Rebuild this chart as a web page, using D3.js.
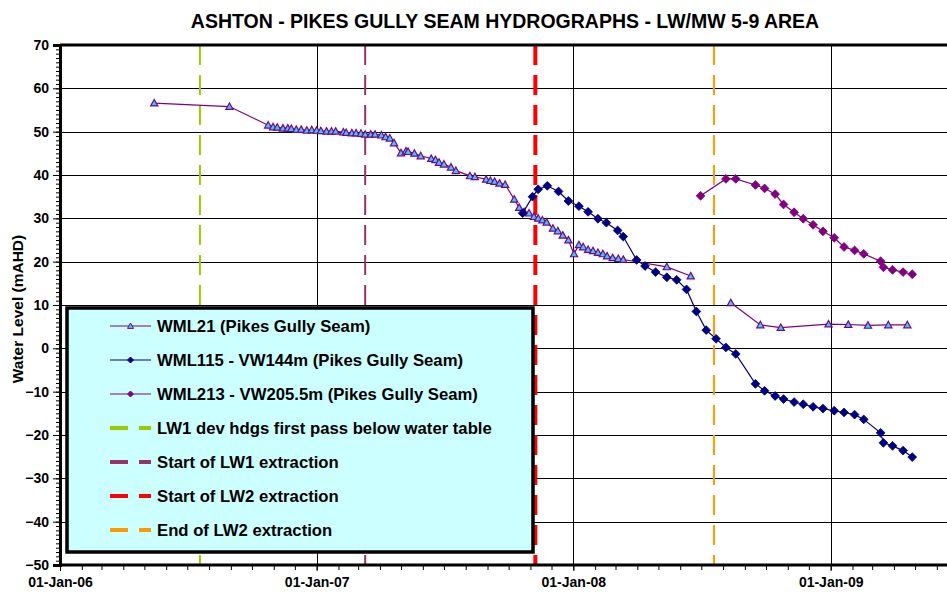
<!DOCTYPE html>
<html>
<head>
<meta charset="UTF-8" />
<title>Ashton - Pikes Gully Seam Hydrographs</title>
<script src="https://cdnjs.cloudflare.com/ajax/libs/d3/7.8.5/d3.min.js"></script>
<style>
body {
	margin: 0;
	background: #fff;
}

text {
	font-family: Arial, "Liberation Sans", sans-serif;
	font-weight: bold;
	fill: #000;
}
</style>
</head>
<body>
<div id="chart"></div>
<script>
// WML21 (triangles) - null = gap in the record
var wml21Dates = ["2006-05-15", "2006-08-30", "2006-10-24", "2006-10-31", "2006-11-06", "2006-11-14",
    "2006-11-21", "2006-11-26", "2006-12-03", "2006-12-10", "2006-12-18", "2006-12-25", "2007-01-01",
    "2007-01-07", "2007-01-15", "2007-01-22", "2007-01-28", "2007-02-08", "2007-02-12", "2007-02-20",
    "2007-02-26", "2007-03-05", "2007-03-11", "2007-03-19", "2007-03-25", "2007-04-03", "2007-04-09",
    "2007-04-15", "2007-04-21", "2007-05-01", "2007-05-08", "2007-05-11", "2007-05-20", "2007-05-29",
    "2007-06-13", "2007-06-19", "2007-06-24", "2007-07-01", "2007-07-11", "2007-07-18", "2007-08-07",
    "2007-08-14", "2007-08-30", "2007-09-05", "2007-09-11", "2007-09-18", "2007-09-26", "2007-10-09",
    "2007-10-16", "2007-10-23", "2007-10-30", "2007-11-06", "2007-11-12", "2007-11-18", "2007-11-24",
    "2007-12-03", "2007-12-10", "2007-12-17", "2007-12-25", "2008-01-02", "2008-01-09", "2008-01-15",
    "2008-01-22", "2008-01-29", "2008-02-05", "2008-02-12", "2008-02-18", "2008-02-26", "2008-03-05",
    "2008-03-12", "2008-05-13", "2008-06-16", "2008-07-15", "2008-08-12", "2008-09-23", "2008-10-22",
    "2008-12-29", "2009-01-26", "2009-02-23", "2009-03-24", "2009-04-20"];
var wml21Levels = [56.6, 55.8, 51.5, 51.1, 51.0, 50.8,
    50.8, 50.7, 50.5, 50.5, 50.3, 50.4, 50.3,
    50.2, 50.1, 50.1, 50.1, 49.9, 49.8, 49.7,
    49.7, 49.6, 49.4, 49.4, 49.4, 49.2, 48.8,
    48.5, 47.4, 45.1, 45.5, 45.4, 45.0, 44.4,
    43.8, 43.5, 42.9, 42.5, 41.8, 41.0, 39.8,
    39.6, 39.0, 38.7, 38.5, 38.1, 37.8, 34.4,
    32.5, 31.5, 31.2, 30.4, 30.0, 29.6, 29.1,
    27.7, 27.1, 26.1, 25.0, 21.8, 23.9, 23.4,
    22.8, 22.5, 22.1, 21.8, 21.3, 20.9, 20.7,
    20.5, 18.8, 16.7, null, 10.5, 5.4, 4.8,
    5.6, 5.5, 5.3, 5.4, 5.4];

// WML115 - VW144m (navy diamonds)
var wml115Dates = ["2007-10-21", "2007-11-04", "2007-11-12", "2007-11-25", "2007-12-11", "2007-12-25",
    "2008-01-09", "2008-01-22", "2008-02-05", "2008-02-17", "2008-03-04", "2008-03-12", "2008-03-31",
    "2008-04-12", "2008-04-27", "2008-05-13", "2008-05-27", "2008-06-10", "2008-06-24", "2008-07-08",
    "2008-07-22", "2008-08-05", "2008-08-19", "2008-09-16", "2008-09-29", "2008-10-14", "2008-10-26",
    "2008-11-10", "2008-11-23", "2008-12-07", "2008-12-21", "2009-01-06", "2009-01-20", "2009-02-04",
    "2009-02-17", "2009-03-13", "2009-03-17", "2009-03-30", "2009-04-14", "2009-04-27"];
var wml115Levels = [31.2, 35.0, 36.7, 37.5, 36.2, 34.0,
    32.8, 31.5, 29.9, 29.0, 27.2, 25.8, 20.4,
    19.0, 17.6, 16.4, 15.8, 13.6, 8.5, 4.2,
    2.2, 0.2, -1.3, -8.2, -9.8, -11.0, -11.7,
    -12.4, -12.9, -13.5, -13.9, -14.4, -14.8, -15.3,
    -16.4, -19.5, -21.8, -22.5, -23.6, -25.1];

// WML213 - VW205.5m (purple diamonds)
var wml213Dates = ["2008-06-30", "2008-08-05", "2008-08-19", "2008-09-16", "2008-09-29", "2008-10-14",
    "2008-10-26", "2008-11-10", "2008-11-23", "2008-12-07", "2008-12-21", "2009-01-06", "2009-01-20",
    "2009-02-04", "2009-02-17", "2009-03-13", "2009-03-17", "2009-03-30", "2009-04-14", "2009-04-27"];
var wml213Levels = [35.2, 39.1, 39.1, 37.7, 36.9, 35.6,
    33.2, 31.4, 29.9, 28.5, 27.0, 25.5, 23.4,
    22.6, 21.8, 20.1, 18.7, 18.1, 17.6, 17.1];

// mining events (vertical dashed lines)
var eventNames = ["LW1 dev hdgs first pass below water table", "Start of LW1 extraction",
    "Start of LW2 extraction", "End of LW2 extraction"];
var eventDates = ["2006-07-19", "2007-03-11", "2007-11-08", "2008-07-19"];

var seriesNames = ["WML21 (Pikes Gully Seam)", "WML115 - VW144m (Pikes Gully Seam)",
    "WML213 - VW205.5m (Pikes Gully Seam)"];

var yTickValues = [-50, -40, -30, -20, -10, 0, 10, 20, 30, 40, 50, 60, 70];
var xTickDates = ["2006-01-01", "2007-01-01", "2008-01-01", "2009-01-01"];
var xDomain = ["2006-01-01", "2009-06-14"];
var yDomain = [-50, 70];

// styles
var seriesStyle = [
    {line: '#800080', fill: '#33CCFF', stroke: '#800080', shape: 'tri'},
    {line: '#000080', fill: '#000080', stroke: '#000080', shape: 'dia'},
    {line: '#800080', fill: '#800080', stroke: '#800080', shape: 'dia'}
];
var eventStyle = [
    {color: '#99CC00', width: 2},
    {color: '#993366', width: 2},
    {color: '#FF0000', width: 4},
    {color: '#FF9900', width: 2}
];

var parse = d3.timeParse('%Y-%m-%d');

var width = 947, height = 594;
var plot = {left: 60, top: 45, right: 946, bottom: 565};

var svg = d3.select('#chart')
    .append('svg')
    .attr('width', width)
    .attr('height', height);

var x = d3.scaleTime()
    .domain(xDomain.map(parse))
    .range([plot.left, plot.right]);

var y = d3.scaleLinear()
    .domain(yDomain)
    .range([plot.bottom, plot.top]);

// title
svg.append('text')
    .attr('x', 505)
    .attr('y', 28)
    .attr('text-anchor', 'middle')
    .style('font-size', '19.5px')
    .text('ASHTON - PIKES GULLY SEAM HYDROGRAPHS - LW/MW 5-9 AREA');

// y label
svg.append('text')
    .attr('transform', 'translate(23,' + 309 + ') rotate(-90)')
    .attr('text-anchor', 'middle')
    .style('font-size', '15.5px')
    .text('Water Level (mAHD)');

// gridlines
svg.append('g')
    .selectAll('line')
    .data(yTickValues.filter(function(v) { return v > yDomain[0] && v < yDomain[1]; }))
    .enter()
    .append('line')
    .attr('x1', plot.left)
    .attr('x2', width)
    .attr('y1', function(d) { return Math.round(y(d)) + 0.5; })
    .attr('y2', function(d) { return Math.round(y(d)) + 0.5; })
    .attr('stroke', '#000')
    .attr('stroke-width', 1);

svg.append('g')
    .selectAll('line')
    .data(xTickDates.slice(1).map(parse))
    .enter()
    .append('line')
    .attr('x1', function(d) { return Math.round(x(d)) + 0.5; })
    .attr('x2', function(d) { return Math.round(x(d)) + 0.5; })
    .attr('y1', plot.top)
    .attr('y2', plot.bottom)
    .attr('stroke', '#000')
    .attr('stroke-width', 1);

// event lines
svg.append('g')
    .selectAll('line')
    .data(eventDates.map(parse))
    .enter()
    .append('line')
    .attr('x1', function(d) { return x(d); })
    .attr('x2', function(d) { return x(d); })
    .attr('y1', plot.top)
    .attr('y2', plot.bottom)
    .attr('stroke', function(d, i) { return eventStyle[i].color; })
    .attr('stroke-width', function(d, i) { return eventStyle[i].width; })
    .attr('stroke-dasharray', '20,10');

// series
function markerPath(shape, r) {
    if (shape === 'tri') {
        return 'M0,' + (-r) + 'L' + r + ',' + (r * 0.8) + 'L' + (-r) + ',' + (r * 0.8) + 'Z';
    }
    return 'M0,' + (-r) + 'L' + r + ',0L0,' + r + 'L' + (-r) + ',0Z';
}

var allSeries = [
    {dates: wml21Dates, levels: wml21Levels},
    {dates: wml115Dates, levels: wml115Levels},
    {dates: wml213Dates, levels: wml213Levels}
];

var line = d3.line()
    .defined(function(d) { return d.v !== null; })
    .x(function(d) { return x(d.t); })
    .y(function(d) { return y(d.v); });

allSeries.forEach(function(s, i) {
    var pts = s.dates.map(function(dt, j) {
        return {t: parse(dt), v: s.levels[j]};
    });
    var st = seriesStyle[i];
    var g = svg.append('g');
    g.append('path')
        .datum(pts)
        .attr('d', line)
        .attr('fill', 'none')
        .attr('stroke', st.line)
        .attr('stroke-width', 1.2);
    g.selectAll('path.mk')
        .data(pts.filter(function(d) { return d.v !== null; }))
        .enter()
        .append('path')
        .attr('class', 'mk')
        .attr('transform', function(d) { return 'translate(' + x(d.t) + ',' + y(d.v) + ')'; })
        .attr('d', markerPath(st.shape, st.shape === 'tri' ? 3.6 : 4.4))
        .attr('fill', st.fill)
        .attr('stroke', st.stroke)
        .attr('stroke-width', st.shape === 'tri' ? 1.2 : 0.8);
});

// axes
var yAxisMinor = d3.axisLeft(y)
    .tickValues(d3.range(yDomain[0], yDomain[1] + 1, 1))
    .tickSize(4)
    .tickFormat('');
svg.append('g')
    .attr('transform', 'translate(' + plot.left + ',0)')
    .call(yAxisMinor)
    .call(function(g) { g.select('.domain').remove(); });

var yAxis = d3.axisLeft(y)
    .tickValues(yTickValues)
    .tickSize(7)
    .tickPadding(4);
svg.append('g')
    .attr('transform', 'translate(' + plot.left + ',0)')
    .call(yAxis)
    .call(function(g) {
        g.select('.domain').attr('stroke-width', 3);
        g.selectAll('text').style('font-size', '14px').style('font-family', 'Arial, "Liberation Sans", sans-serif');
    });

var xAxisMinor = d3.axisBottom(x)
    .ticks(d3.timeMonth.every(1))
    .tickSize(5)
    .tickFormat('');
svg.append('g')
    .attr('transform', 'translate(0,' + plot.bottom + ')')
    .call(xAxisMinor)
    .call(function(g) { g.select('.domain').remove(); });

var xAxis = d3.axisBottom(x)
    .tickValues(xTickDates.map(parse))
    .tickSize(6)
    .tickPadding(6)
    .tickFormat(d3.timeFormat('%d-%b-%y'));
svg.append('g')
    .attr('transform', 'translate(0,' + plot.bottom + ')')
    .call(xAxis)
    .call(function(g) {
        g.select('.domain').attr('stroke-width', 3).attr('d', 'M' + plot.left + ',0H' + width);
        g.selectAll('text').style('font-size', '14px').style('font-family', 'Arial, "Liberation Sans", sans-serif');
    });

// top border
svg.append('line')
    .attr('x1', plot.left)
    .attr('x2', width)
    .attr('y1', plot.top)
    .attr('y2', plot.top)
    .attr('stroke', '#000')
    .attr('stroke-width', 3);

// legend
var legend = svg.append('g').attr('class', 'legend');
legend.append('rect')
    .attr('x', 67)
    .attr('y', 308)
    .attr('width', 466)
    .attr('height', 244)
    .attr('fill', '#CCFFFF')
    .attr('stroke', '#000')
    .attr('stroke-width', 3.5);

var legendItems = seriesNames.map(function(n, i) { return {name: n, kind: 's', i: i}; })
    .concat(eventNames.map(function(n, i) { return {name: n, kind: 'e', i: i}; }));

var rowH = 34;
var row = legend.selectAll('g.row')
    .data(legendItems)
    .enter()
    .append('g')
    .attr('class', 'row')
    .attr('transform', function(d, i) { return 'translate(110,' + (326 + i * rowH) + ')'; });

row.append('line')
    .attr('x1', 0)
    .attr('x2', 41)
    .attr('stroke', function(d) { return d.kind === 's' ? seriesStyle[d.i].line : eventStyle[d.i].color; })
    .attr('stroke-width', function(d) { return d.kind === 's' ? 1.2 : 4; })
    .attr('stroke-dasharray', function(d) { return d.kind === 's' ? null : '18,11'; });

row.filter(function(d) { return d.kind === 's'; })
    .append('path')
    .attr('transform', 'translate(20.5,0)')
    .attr('d', function(d) { return markerPath(seriesStyle[d.i].shape, 3); })
    .attr('fill', function(d) { return seriesStyle[d.i].fill; })
    .attr('stroke', function(d) { return seriesStyle[d.i].stroke; })
    .attr('stroke-width', 1);

row.append('text')
    .attr('x', 47)
    .attr('dy', '0.36em')
    .style('font-size', '16.7px')
    .text(function(d) { return d.name; });
</script>
</body>
</html>
